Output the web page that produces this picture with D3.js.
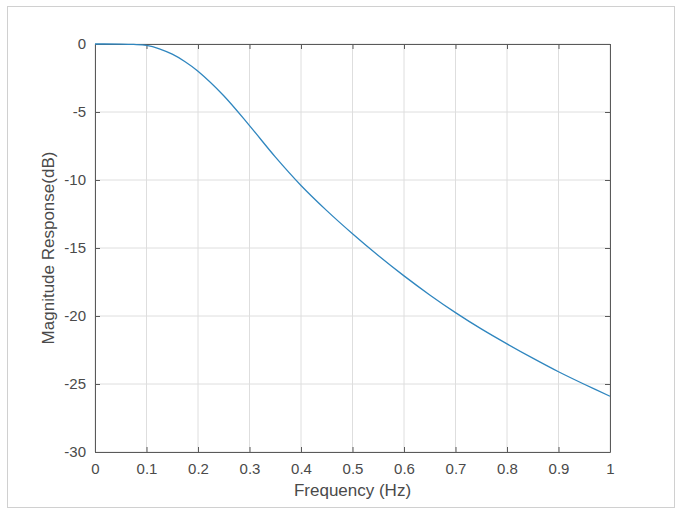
<!DOCTYPE html>
<html>
<head>
<meta charset="utf-8">
<script src="https://cdn.jsdelivr.net/npm/d3@7"></script>
<style>
  html, body { margin: 0; padding: 0; background: #fff; }
  svg { display: block; font-family: "Liberation Sans", Arial, sans-serif; }
</style>
</head>
<body>
<div id="chart"></div>
<script>
// magnitude response
const freq = [0, 0.05, 0.075, 0.1, 0.125, 0.15, 0.175, 0.2, 0.25, 0.3, 0.35, 0.4, 0.45, 0.5,
  0.55, 0.6, 0.65, 0.7, 0.75, 0.8, 0.85, 0.9, 0.95, 1.0];
const magDb = [0, -0.005, -0.03, -0.1, -0.35, -0.75, -1.3, -2.0, -3.8, -6.0, -8.3, -10.4, -12.25, -13.95,
  -15.55, -17.05, -18.45, -19.75, -20.95, -22.05, -23.1, -24.1, -25.02, -25.9];
const xTicks = [0, 0.1, 0.2, 0.3, 0.4, 0.5, 0.6, 0.7, 0.8, 0.9, 1];
const yTicks = [0, -5, -10, -15, -20, -25, -30];

const W = 683, H = 516;
const margin = { top: 44, right: 73, bottom: 64, left: 95 };
const width = W - margin.left - margin.right;
const height = H - margin.top - margin.bottom;

const svg = d3.select("#chart").append("svg")
  .attr("width", W)
  .attr("height", H);

// outer frame of the figure
svg.append("rect")
  .attr("x", 7.5).attr("y", 6.5)
  .attr("width", 667).attr("height", 501)
  .attr("fill", "none")
  .attr("stroke", "#d0d0d0");

const g = svg.append("g")
  .attr("transform", `translate(${margin.left},${margin.top})`);

const x = d3.scaleLinear().domain([0, 1]).range([0, width]);
const y = d3.scaleLinear().domain([-30, 0]).range([height, 0]);

// grid
g.append("g")
  .selectAll("line")
  .data(xTicks)
  .join("line")
  .attr("x1", d => x(d)).attr("x2", d => x(d))
  .attr("y1", 0).attr("y2", height)
  .attr("stroke", "#dedede");

g.append("g")
  .selectAll("line")
  .data(yTicks)
  .join("line")
  .attr("y1", d => y(d)).attr("y2", d => y(d))
  .attr("x1", 0).attr("x2", width)
  .attr("stroke", "#dedede");

// axes, ticks point inward
const styleAxis = sel => {
  sel.select(".domain").attr("stroke", "#5a5a5a");
  sel.selectAll(".tick line").attr("stroke", "#5a5a5a");
  sel.selectAll("text").attr("fill", "#4a4a4a").style("font-size", "15px");
};
const plain = d => String(d); // keep the ascii hyphen for negatives

g.append("g")
  .attr("transform", `translate(0,${height})`)
  .call(d3.axisBottom(x).tickValues(xTicks).tickFormat(plain)
    .tickSizeInner(-5).tickSizeOuter(0).tickPadding(11))
  .call(styleAxis);

g.append("g")
  .call(d3.axisTop(x).tickValues(xTicks).tickFormat("")
    .tickSizeInner(-5).tickSizeOuter(0))
  .call(styleAxis);

g.append("g")
  .call(d3.axisLeft(y).tickValues(yTicks).tickFormat(plain)
    .tickSizeInner(-5).tickSizeOuter(0).tickPadding(9))
  .call(styleAxis);

g.append("g")
  .attr("transform", `translate(${width},0)`)
  .call(d3.axisRight(y).tickValues(yTicks).tickFormat("")
    .tickSizeInner(-5).tickSizeOuter(0))
  .call(styleAxis);

// response curve
const pts = freq.map((f, i) => [f, magDb[i]]);
g.append("path")
  .datum(pts)
  .attr("fill", "none")
  .attr("stroke", "#2f86bf")
  .attr("stroke-width", 1.3)
  .attr("d", d3.line()
    .x(d => x(d[0]))
    .y(d => y(d[1]))
    .curve(d3.curveCatmullRom.alpha(0.5)));

// labels
svg.append("text")
  .attr("x", margin.left + width / 2)
  .attr("y", 496)
  .attr("text-anchor", "middle")
  .attr("fill", "#4a4a4a")
  .style("font-size", "17px")
  .text("Frequency (Hz)");

svg.append("text")
  .attr("transform", `translate(54,${margin.top + height / 2}) rotate(-90)`)
  .attr("text-anchor", "middle")
  .attr("fill", "#4a4a4a")
  .style("font-size", "17px")
  .text("Magnitude Response(dB)");
</script>
</body>
</html>
